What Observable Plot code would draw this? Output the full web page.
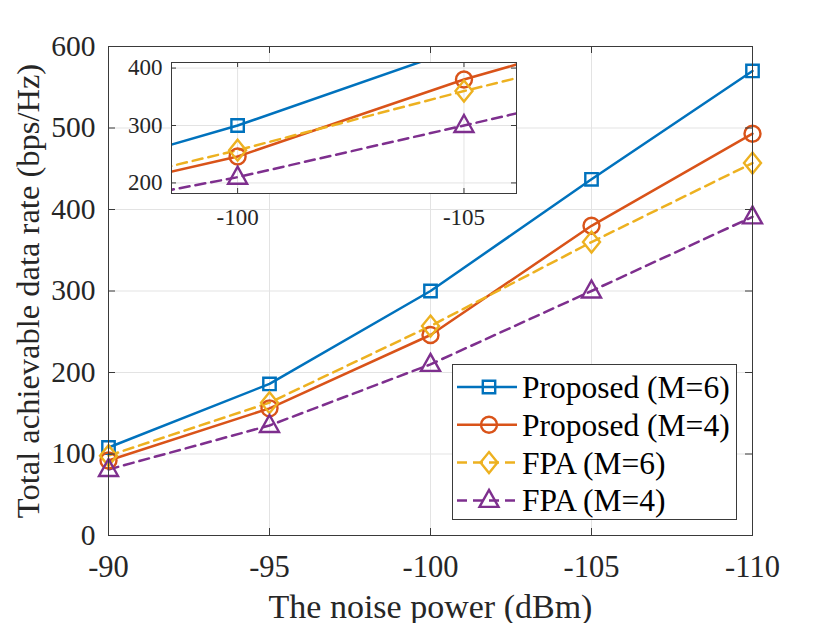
<!DOCTYPE html>
<html>
<head>
<meta charset="utf-8">
<script src="https://cdn.jsdelivr.net/npm/d3@7"></script>
<script src="https://cdn.jsdelivr.net/npm/@observablehq/plot@0.6"></script>
<style>
  body { margin: 0; background: white; }
  #wrap { position: relative; width: 830px; height: 623px; overflow: hidden; font-family: "Liberation Serif", "Times New Roman", Times, serif; }
  #wrap > * { position: absolute; }
  #wrap svg text { font-family: "Liberation Serif", "Times New Roman", Times, serif; }
</style>
</head>
<body>
<div id="wrap"></div>
<script>
// ---- data ----
const noisePower = [-90, -95, -100, -105, -110];
const seriesNames = ["Proposed (M=6)", "Proposed (M=4)", "FPA (M=6)", "FPA (M=4)"];
const proposedM6 = [108, 186, 300, 437, 570];
const proposedM4 = [92, 156, 246, 380, 493];
const fpaM6 = [98, 163, 257, 360, 457];
const fpaM4 = [81, 135, 210, 300, 391];
const xTicks = [-90, -95, -100, -105, -110];
const yTicks = [0, 100, 200, 300, 400, 500, 600];
const insetXTicks = [-100, -105];
const insetYTicks = [200, 300, 400];
const xLabel = "The noise power (dBm)";
const yLabel = "Total achievable data rate (bps/Hz)";

const seriesValues = [proposedM6, proposedM4, fpaM6, fpaM4];
const colors = ["#0072BD", "#D95319", "#EDB120", "#7E2F8E"];
const dashes = [null, null, "10,6", "10,6"];

// custom MATLAB-like marker shapes (pixel sized)
const sym = [
  {draw(c) { c.rect(-6.2, -6.2, 12.4, 12.4); }},
  {draw(c) { c.moveTo(8, 0); c.arc(0, 0, 8, 0, 2 * Math.PI); c.closePath(); }},
  {draw(c) { c.moveTo(0, -10.5); c.lineTo(8.5, 0); c.lineTo(0, 10.5); c.lineTo(-8.5, 0); c.closePath(); }},
  {draw(c) { c.moveTo(0, -10.5); c.lineTo(9.5, 6.5); c.lineTo(-9.5, 6.5); c.closePath(); }}
];

const rows = seriesNames.flatMap((s, i) => noisePower.map((x, j) => ({series: s, i, x, y: seriesValues[i][j]})));

const font = "'Liberation Serif', 'Times New Roman', Times, serif";
const axisColor = "#3a3a3a";
const gridColor = "#e3e3e3";
const fmt = d => String(d);

function seriesMarks(clip) {
  const marks = [];
  seriesNames.forEach((s, i) => {
    const d = rows.filter(r => r.i === i);
    marks.push(Plot.line(d, {x: "x", y: "y", stroke: colors[i], strokeWidth: 2.5, strokeDasharray: dashes[i], clip}));
  });
  seriesNames.forEach((s, i) => {
    const d = rows.filter(r => r.i === i);
    marks.push(Plot.dot(d, {x: "x", y: "y", stroke: colors[i], strokeWidth: 2.4, fill: "none", symbol: sym[i], r: 8, clip}));
  });
  return marks;
}

function inwardTicks(xt, yt, fw, fh, len) {
  return [
    Plot.tickX(xt, {x: d => d, insetTop: fh - len, stroke: axisColor}),
    Plot.tickX(xt, {x: d => d, insetBottom: fh - len, stroke: axisColor}),
    Plot.tickY(yt, {y: d => d, insetRight: fw - len, stroke: axisColor}),
    Plot.tickY(yt, {y: d => d, insetLeft: fw - len, stroke: axisColor})
  ];
}

// ---- main chart ----
const mL = 108, mR = 78, mT = 46, mB = 88;
const W = 830, H = 623;
const main = Plot.plot({
  width: W, height: H,
  marginLeft: mL, marginRight: mR, marginTop: mT, marginBottom: mB,
  style: {fontFamily: font, background: "white", overflow: "visible"},
  x: {domain: [-90, -110]},
  y: {domain: [0, 600]},
  marks: [
    Plot.gridX(xTicks, {stroke: gridColor, strokeOpacity: 1}),
    Plot.gridY(yTicks, {stroke: gridColor, strokeOpacity: 1}),
    ...seriesMarks(false),
    Plot.frame({stroke: axisColor, strokeWidth: 1}),
    ...inwardTicks(xTicks, yTicks, W - mL - mR, H - mT - mB, 7),
    Plot.axisX(xTicks, {tickSize: 0, tickPadding: 20, fontSize: 30.5, tickFormat: fmt, fill: "#262626", label: null}),
    Plot.axisY(yTicks, {tickSize: 0, tickPadding: 13, fontSize: 29.5, tickFormat: fmt, fill: "#262626", label: null}),
    Plot.text([xLabel], {frameAnchor: "bottom", text: d => d, dy: 82, lineAnchor: "bottom", fontSize: 34, fill: "#262626"}),
    Plot.text([yLabel], {frameAnchor: "left", text: d => d, dx: -80, rotate: -90, textAnchor: "middle", fontSize: 32.5, fill: "#262626"})
  ]
});
main.style.left = "0px"; main.style.top = "0px";
document.getElementById("wrap").appendChild(main);

// ---- inset ----
const iW = 420, iH = 185, iL = 61, iR = 14, iT = 12, iB = 42;
const inset = Plot.plot({
  width: iW, height: iH,
  marginLeft: iL, marginRight: iR, marginTop: iT, marginBottom: iB,
  style: {fontFamily: font, background: "transparent", overflow: "visible"},
  x: {domain: [-98.54, -106.16]},
  y: {domain: [181.6, 409.7]},
  marks: [
    Plot.frame({fill: "white"}),
    Plot.gridX(insetXTicks, {stroke: gridColor, strokeOpacity: 1}),
    Plot.gridY(insetYTicks, {stroke: gridColor, strokeOpacity: 1}),
    ...seriesMarks(true),
    Plot.frame({stroke: axisColor, strokeWidth: 1}),
    ...inwardTicks(insetXTicks, insetYTicks, iW - iL - iR, iH - iT - iB, 5),
    Plot.axisX(insetXTicks, {tickSize: 0, tickPadding: 15, fontSize: 23, tickFormat: fmt, fill: "#262626", label: null}),
    Plot.axisY(insetYTicks, {tickSize: 0, tickPadding: 9, fontSize: 23, tickFormat: fmt, fill: "#262626", label: null})
  ]
});
inset.style.left = "110px"; inset.style.top = "50px";
document.getElementById("wrap").appendChild(inset);

// ---- legend ----
const lgW = 285, lgH = 156;
const lg = d3.create("svg").attr("width", lgW).attr("height", lgH)
  .style("left", "452px").style("top", "364px").style("font-family", font);
lg.append("rect").attr("x", 0.5).attr("y", 0.5).attr("width", lgW - 1).attr("height", lgH - 1)
  .attr("fill", "white").attr("stroke", axisColor);
seriesNames.forEach((s, i) => {
  const cy = 23 + i * 37.8;
  const g = lg.append("g");
  g.append("line").attr("x1", 5).attr("x2", 65).attr("y1", cy).attr("y2", cy)
    .attr("stroke", colors[i]).attr("stroke-width", 2.5).attr("stroke-dasharray", dashes[i]);
  const p = d3.path(); sym[i].draw(p);
  g.append("path").attr("d", p.toString()).attr("transform", `translate(37,${cy})`)
    .attr("fill", "none").attr("stroke", colors[i]).attr("stroke-width", 2.4);
  g.append("text").attr("x", 70).attr("y", cy + 11).attr("font-size", 31.5).attr("fill", "black").text(s);
});
document.getElementById("wrap").appendChild(lg.node());
</script>
</body>
</html>
